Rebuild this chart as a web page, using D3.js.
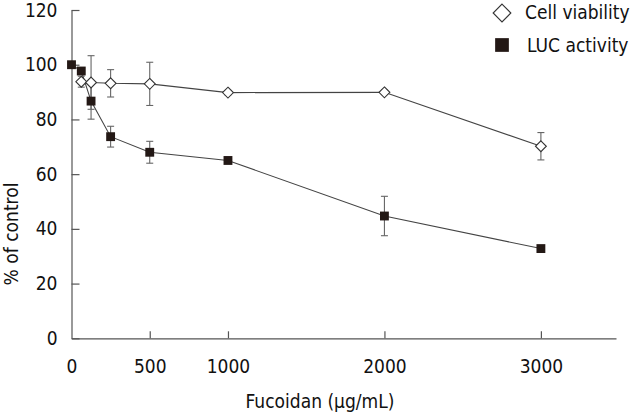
<!DOCTYPE html>
<html>
<head>
<meta charset="utf-8">
<script src="https://cdn.jsdelivr.net/npm/d3@7"></script>
<style>
  body { margin: 0; background: #fff; }
  text { font-family: "DejaVu Sans Condensed", "Liberation Sans", sans-serif; fill: #111; }
</style>
</head>
<body>
<div id="chart"></div>
<script>
// Data
var doses = [62.5, 125, 250, 500, 1000, 2000, 3000];
var viability = [93.8, 93.5, 93.2, 93.0, 89.8, 89.9, 70.2];
var viabilityErr = [2, 9.8, 5, 7.9, 0.8, 0.8, 5];
var lucDoses = [0, 62.5, 125, 250, 500, 1000, 2000, 3000];
var lucActivity = [100, 97.7, 86.7, 73.7, 68.0, 65.0, 44.7, 32.8];
var lucErr = [0, 0.8, 6.6, 3.8, 4, 0.8, 7.2, 0.8];
var xTicks = [0, 500, 1000, 2000, 3000];
var yTicks = [0, 20, 40, 60, 80, 100, 120];

var svgWidth = 630;
var svgHeight = 417;

var svg = d3.select("#chart")
    .append("svg")
    .attr("width", svgWidth)
    .attr("height", svgHeight);

// scales
var xScale = d3.scaleLinear()
    .domain([0, 3480])
    .range([71.5, 616]);

var yScale = d3.scaleLinear()
    .domain([0, 120])
    .range([338.3, 10]);

var axisColor = "#555";
var fontSize = "19px";

// x axis, ticks point inward
var xAxis = d3.axisBottom(xScale)
    .tickValues(xTicks)
    .tickSizeInner(-7)
    .tickSizeOuter(0)
    .tickPadding(21)
    .tickFormat(d3.format("d"));

var gx = svg.append("g")
    .attr("transform", `translate(0, ${yScale(0)})`)
    .call(xAxis);

// y axis
var yAxis = d3.axisLeft(yScale)
    .tickValues(yTicks)
    .tickSizeInner(-8)
    .tickSizeOuter(0)
    .tickPadding(14);

var gy = svg.append("g")
    .attr("transform", `translate(${xScale(0)}, 0)`)
    .call(yAxis);

[gx, gy].forEach(function(g) {
    g.select(".domain").attr("stroke", axisColor).attr("stroke-width", 1.2);
    g.selectAll(".tick line").attr("stroke", axisColor).attr("stroke-width", 1.2);
    g.selectAll(".tick text")
        .attr("font-size", fontSize)
        .attr("font-family", "DejaVu Sans Condensed, Liberation Sans, sans-serif")
        .attr("fill", "#111");
});
// no tick at origin on x axis
gx.selectAll(".tick").filter(d => d === 0).select("line").remove();

// axis titles
svg.append("text")
    .attr("x", 320)
    .attr("y", 408)
    .attr("text-anchor", "middle")
    .attr("font-size", fontSize)
    .text("Fucoidan (\u03bcg/mL)");

svg.append("text")
    .attr("transform", "translate(18, 234) rotate(-90)")
    .attr("text-anchor", "middle")
    .attr("font-size", fontSize)
    .text("% of control");

var viaData = doses.map((d, i) => ({x: d, y: viability[i], e: viabilityErr[i]}));
var lucData = lucDoses.map((d, i) => ({x: d, y: lucActivity[i], e: lucErr[i]}));

var line = d3.line()
    .x(d => xScale(d.x))
    .y(d => yScale(d.y));

[viaData, lucData].forEach(function(series) {
    svg.append("path")
        .datum(series)
        .attr("d", line)
        .attr("fill", "none")
        .attr("stroke", "#444")
        .attr("stroke-width", 1.1);
});

// error bars
function errorBars(series) {
    var g = svg.append("g")
        .attr("stroke", "#666")
        .attr("stroke-width", 1.1);
    series.filter(d => d.e > 0).forEach(function(d) {
        var x = xScale(d.x);
        var y1 = yScale(d.y + d.e);
        var y2 = yScale(d.y - d.e);
        g.append("line").attr("x1", x).attr("x2", x).attr("y1", y1).attr("y2", y2);
        g.append("line").attr("x1", x - 3.5).attr("x2", x + 3.5).attr("y1", y1).attr("y2", y1);
        g.append("line").attr("x1", x - 3.5).attr("x2", x + 3.5).attr("y1", y2).attr("y2", y2);
    });
}
errorBars(viaData);
errorBars(lucData);

var diamond = d3.symbol().type(d3.symbolDiamond2).size(75);
var square = d3.symbol().type(d3.symbolSquare2).size(100);

svg.selectAll("path.via")
    .data(viaData)
    .enter()
    .append("path")
    .classed("via", true)
    .attr("d", diamond)
    .attr("transform", d => `translate(${xScale(d.x)}, ${yScale(d.y)})`)
    .attr("fill", "#fff")
    .attr("stroke", "#333")
    .attr("stroke-width", 1.1);

svg.selectAll("path.luc")
    .data(lucData)
    .enter()
    .append("path")
    .classed("luc", true)
    .attr("d", square)
    .attr("transform", d => `translate(${xScale(d.x)}, ${yScale(d.y)})`)
    .attr("fill", "#231815");

// legend
svg.append("path")
    .attr("d", d3.symbol().type(d3.symbolDiamond2).size(200))
    .attr("transform", "translate(502, 13)")
    .attr("fill", "#fff")
    .attr("stroke", "#333")
    .attr("stroke-width", 1.1);
svg.append("text")
    .attr("x", 525)
    .attr("y", 19)
    .attr("font-size", fontSize)
    .text("Cell viability");

svg.append("path")
    .attr("d", d3.symbol().type(d3.symbolSquare2).size(240))
    .attr("transform", "translate(502, 45)")
    .attr("fill", "#231815");
svg.append("text")
    .attr("x", 527)
    .attr("y", 52)
    .attr("font-size", fontSize)
    .text("LUC activity");
</script>
</body>
</html>
